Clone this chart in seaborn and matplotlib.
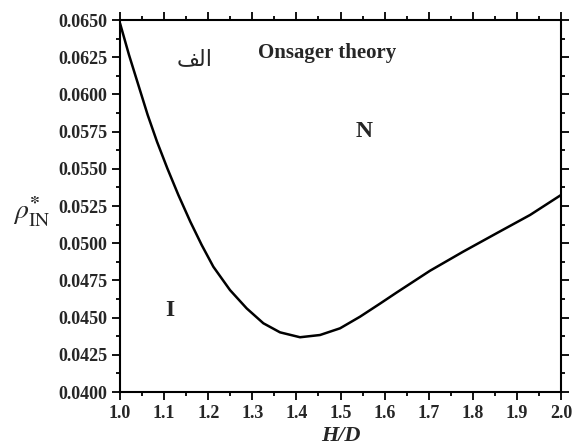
import matplotlib
matplotlib.use("Agg")
import matplotlib.pyplot as plt
import seaborn as sns
import pandas as pd
from matplotlib.ticker import MultipleLocator, FormatStrFormatter

# Data
h_over_d = [1.000, 1.0204, 1.0416, 1.0627, 1.0839, 1.1073, 1.1323, 1.1595, 1.1852,
            1.2116, 1.2494, 1.2872, 1.3250, 1.3628, 1.4082, 1.4535, 1.4989, 1.5442,
            1.5896, 1.627, 1.703, 1.778, 1.854, 1.930, 2.000]
rho_in = [0.06478, 0.06265, 0.06063, 0.05862, 0.05682, 0.05503, 0.05324, 0.05144, 0.04988,
          0.04842, 0.04685, 0.04562, 0.04462, 0.04401, 0.04368, 0.04383, 0.04428, 0.04506,
          0.04594, 0.04668, 0.04815, 0.04943, 0.05067, 0.05190, 0.05324]
annotations = ["Onsager theory", "N", "I"]
arabic_label = "\uFED2\uFEDF\uFE8D"  # "الف" in shaped presentation forms (visual order)

df = pd.DataFrame({"H/D": h_over_d, "rho": rho_in})

sns.set_style("ticks")
plt.rcParams["font.family"] = ["Liberation Serif", "DejaVu Sans"]
plt.rcParams["mathtext.fontset"] = "stix"

fig = plt.figure(figsize=(5.79, 4.45), dpi=100)
ax = fig.add_axes([0.2073, 0.1191, 0.7616, 0.8359])

sns.lineplot(data=df, x="H/D", y="rho", ax=ax, color="black", linewidth=1.8, sort=False,
             solid_joinstyle="round", solid_capstyle="round")

ax.set_xlim(1.0, 2.0)
ax.set_ylim(0.040, 0.065)
ax.xaxis.set_major_locator(MultipleLocator(0.1))
ax.xaxis.set_minor_locator(MultipleLocator(0.05))
ax.yaxis.set_major_locator(MultipleLocator(0.0025))
ax.yaxis.set_minor_locator(MultipleLocator(0.00125))
ax.xaxis.set_major_formatter(FormatStrFormatter("%.1f"))
ax.yaxis.set_major_formatter(FormatStrFormatter("%.4f"))

ax.tick_params(which="both", direction="out", top=True, right=True, width=1.3, color="black")
ax.tick_params(which="major", length=6)
ax.tick_params(which="minor", length=3)
ax.tick_params(axis="both", which="major", labelsize=13, pad=3)
for lab in ax.get_xticklabels() + ax.get_yticklabels():
    lab.set_fontweight("bold")
for sp in ax.spines.values():
    sp.set_visible(True)
    sp.set_linewidth(1.5)
    sp.set_color("black")

ax.set_xlabel("H/D", fontsize=16, fontweight="bold", fontstyle="italic", labelpad=3)
ax.set_ylabel(r"$\rho^{\mathbf{*}}_{\mathrm{IN}}$", fontsize=20, rotation=0)
ax.yaxis.set_label_coords(-0.20, 0.484)
ax.yaxis.label.set_verticalalignment("center")
ax.yaxis.label.set_horizontalalignment("center")

ax.text(1.469, 0.06278, annotations[0], fontsize=15, fontweight="bold", ha="center", va="center")
ax.text(1.554, 0.0575, annotations[1], fontsize=17, fontweight="bold", ha="center", va="center")
ax.text(1.113, 0.04548, annotations[2], fontsize=17, fontweight="bold", ha="center", va="center")
ax.text(1.170, 0.06238, arabic_label, fontsize=16, ha="center", va="center",
        family=["DejaVu Sans"])

fig.savefig("out.png", dpi=100)
